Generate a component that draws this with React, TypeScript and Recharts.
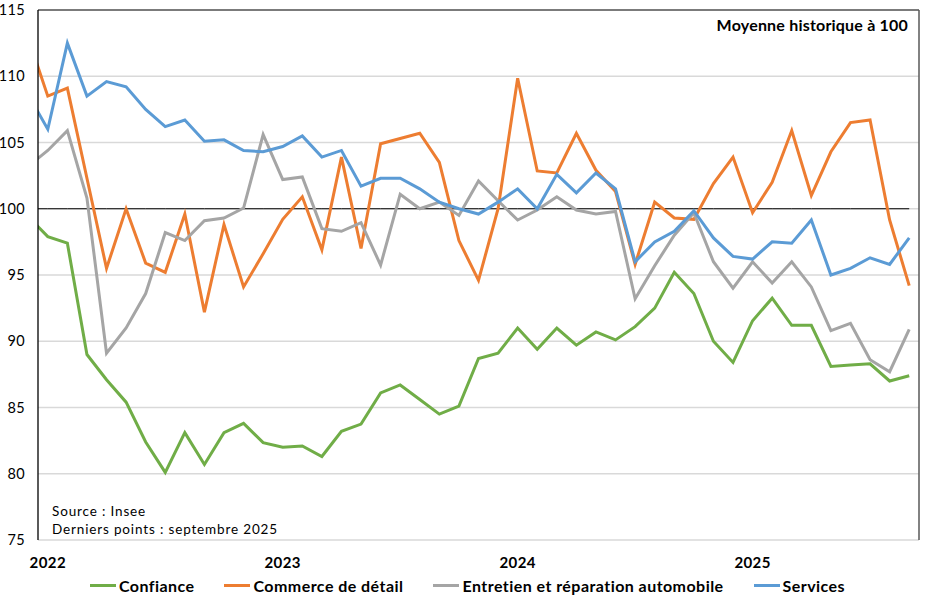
import React from "react";
import { LineChart, Line, XAxis, YAxis, CartesianGrid, ReferenceLine } from "recharts";

// Months: index -1 = Dec 2021 (clipped at the left edge), 0 = Jan 2022 ... 44 = Sep 2025
const monthIndex = Array.from({ length: 46 }, (_, k) => k - 1);

const confiance = [99.4, 97.9, 97.4, 89.0, 87.1, 85.4, 82.4, 80.1, 83.1, 80.7, 83.1, 83.8, 82.35, 82.0, 82.1, 81.3, 83.2, 83.75, 86.1, 86.7, 85.6, 84.5, 85.1, 88.7, 89.1, 91.0, 89.4, 91.0, 89.7, 90.7, 90.1, 91.1, 92.5, 95.2, 93.6, 90.0, 88.4, 91.55, 93.25, 91.2, 91.2, 88.1, 88.2, 88.3, 87.0, 87.4];
const commerce = [112.9, 108.5, 109.1, 102.3, 95.5, 100.0, 95.9, 95.2, 99.6, 92.2, 98.8, 94.1, 96.6, 99.2, 100.9, 96.9, 103.9, 97.0, 104.9, 105.3, 105.7, 103.5, 97.6, 94.6, 100.0, 109.85, 102.85, 102.7, 105.7, 102.9, 101.3, 95.8, 100.5, 99.3, 99.2, 101.9, 103.9, 99.7, 102.0, 105.9, 101.0, 104.3, 106.5, 106.7, 99.15, 94.2];
const entretien = [103.2, 104.4, 105.9, 100.8, 89.1, 91.0, 93.6, 98.2, 97.6, 99.1, 99.3, 100.05, 105.6, 102.2, 102.4, 98.5, 98.3, 98.95, 95.75, 101.1, 100.0, 100.5, 99.5, 102.1, 100.6, 99.15, 99.9, 100.9, 99.9, 99.6, 99.8, 93.2, 95.7, 98.0, 99.7, 96.0, 94.0, 96.0, 94.4, 96.0, 94.1, 90.8, 91.35, 88.6, 87.7, 90.9];
const services = [108.6, 106.0, 112.5, 108.5, 109.6, 109.2, 107.5, 106.2, 106.7, 105.1, 105.2, 104.4, 104.3, 104.7, 105.5, 103.9, 104.4, 101.7, 102.3, 102.3, 101.5, 100.5, 100.0, 99.6, 100.5, 101.5, 100.0, 102.6, 101.2, 102.7, 101.5, 96.0, 97.5, 98.3, 99.85, 97.8, 96.4, 96.2, 97.5, 97.4, 99.15, 95.0, 95.5, 96.3, 95.8, 97.8];

const yearTicks = [0, 12, 24, 36];
const yearLabels = ["2022", "2023", "2024", "2025"];
const yTicks = [75, 80, 85, 90, 95, 100, 105, 110, 115];

const seriesNames = ["Confiance", "Commerce de détail", "Entretien et réparation automobile", "Services"];
const seriesKeys = ["confiance", "commerce", "entretien", "services"];
const seriesColors = ["#70AD47", "#ED7D31", "#A5A5A5", "#5B9BD5"];

const data = monthIndex.map((i, k) => ({
  i,
  base: 100,
  confiance: confiance[k],
  commerce: commerce[k],
  entretien: entretien[k],
  services: services[k],
}));

const FONT = "Lato, 'Noto Sans', sans-serif";

const YearTick = (props: any) => {
  const { x, y, payload } = props;
  const idx = yearTicks.indexOf(payload.value);
  return (
    <text x={x} y={y} dy={20} textAnchor="middle" fontFamily={FONT} fontWeight={700} fontSize={15} letterSpacing={0.4} fill="#000">
      {idx >= 0 ? yearLabels[idx] : ""}
    </text>
  );
};

const ValTick = (props: any) => {
  const { x, y, payload } = props;
  return (
    <text x={x + 1} y={y} dy={5} textAnchor="end" fontFamily={FONT} fontSize={14.5} letterSpacing={0.3} fill="#000">
      {payload.value}
    </text>
  );
};

export default function App() {
  return (
    <div style={{ position: "relative", width: 935, height: 609, background: "#fff" }}>
      <style>{`body{margin:0;}`}</style>
      <LineChart width={935} height={609} data={data} margin={{ top: 10, right: 16, left: 0, bottom: 0 }}>
        <CartesianGrid horizontal={true} vertical={false} stroke="#D9D9D9" strokeWidth={1.3} />
        <XAxis
          type="number"
          dataKey="i"
          domain={[-0.5, 44.5]}
          allowDataOverflow
          ticks={yearTicks}
          interval={0}
          axisLine={false}
          tickLine={false}
          height={69}
          tick={<YearTick />}
        />
        <YAxis
          domain={[75, 115]}
          ticks={yTicks}
          interval={0}
          allowDataOverflow
          width={38}
          axisLine={{ stroke: "#000", strokeWidth: 1.3 }}
          tickLine={false}
          tickMargin={8}
          tick={<ValTick />}
        />
        <ReferenceLine y={115} stroke="#595959" strokeWidth={1.5} />
        <ReferenceLine x={44.5} stroke="#595959" strokeWidth={1.5} />
        <Line dataKey="base" stroke="#000" strokeWidth={1} dot={false} isAnimationActive={false} legendType="none" />
        {seriesKeys.map((k, j) => (
          <Line
            key={k}
            dataKey={k}
            name={seriesNames[j]}
            stroke={seriesColors[j]}
            strokeWidth={3}
            dot={false}
            strokeLinejoin="miter"
            isAnimationActive={false}
          />
        ))}
      </LineChart>

      <div
        style={{
          position: "absolute",
          right: 27,
          top: 15,
          fontFamily: FONT,
          fontWeight: 700,
          fontSize: 16,
          letterSpacing: 0.2,
          color: "#000",
        }}
      >
        Moyenne historique à 100
      </div>

      <div
        style={{
          position: "absolute",
          left: 52,
          top: 502,
          fontFamily: FONT,
          fontSize: 13.5,
          lineHeight: "18px",
          letterSpacing: 0.85,
          color: "#000",
        }}
      >
        <div>Source : Insee</div>
        <div>Derniers points : septembre 2025</div>
      </div>

      <div
        style={{
          position: "absolute",
          left: 0,
          width: 935,
          top: 576,
          display: "flex",
          justifyContent: "center",
          gap: 30,
          fontFamily: FONT,
          fontWeight: 700,
          fontSize: 16,
          letterSpacing: 0.45,
          color: "#000",
        }}
      >
        {seriesNames.map((n, j) => (
          <div key={n} style={{ display: "flex", alignItems: "center" }}>
            <span style={{ display: "inline-block", width: 26, height: 3, background: seriesColors[j], marginRight: 3 }} />
            <span>{n}</span>
          </div>
        ))}
      </div>
    </div>
  );
}
